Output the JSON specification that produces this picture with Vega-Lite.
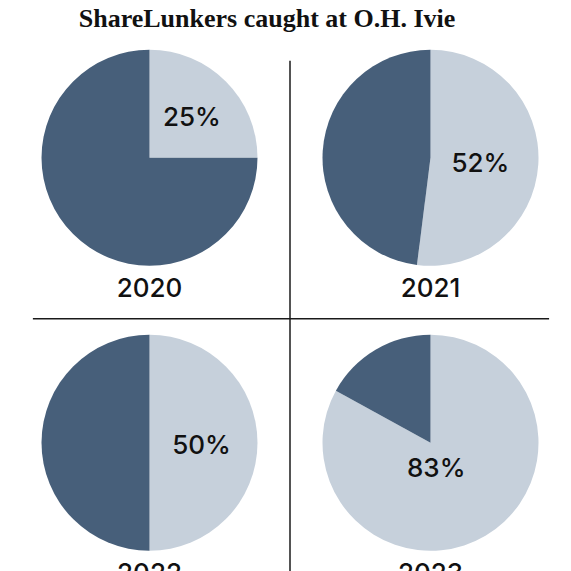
{
  "$schema": "https://vega.github.io/schema/vega-lite/v6.json",
  "width": 562,
  "height": 570,
  "autosize": "none",
  "padding": {"left": 9, "top": 1, "right": 0, "bottom": 0},
  "title": {
    "text": "ShareLunkers caught at O.H. Ivie",
    "font": "Liberation Serif",
    "fontSize": 26,
    "fontWeight": "bold",
    "color": "#111111",
    "anchor": "middle",
    "offset": -31,
    "dx": -23
  },
  "data": {
    "values": [
      {"year": "2020", "col": 0, "row": 0, "part": "At O.H. Ivie", "share": 0.25},
      {"year": "2020", "col": 0, "row": 0, "part": "Elsewhere", "share": 0.75},
      {"year": "2021", "col": 1, "row": 0, "part": "At O.H. Ivie", "share": 0.52},
      {"year": "2021", "col": 1, "row": 0, "part": "Elsewhere", "share": 0.48},
      {"year": "2022", "col": 0, "row": 1, "part": "At O.H. Ivie", "share": 0.50},
      {"year": "2022", "col": 0, "row": 1, "part": "Elsewhere", "share": 0.50},
      {"year": "2023", "col": 1, "row": 1, "part": "At O.H. Ivie", "share": 0.83},
      {"year": "2023", "col": 1, "row": 1, "part": "Elsewhere", "share": 0.17}
    ]
  },
  "encoding": {
    "x": {"field": "col", "type": "quantitative", "scale": {"domain": [-0.5, 1.5], "nice": false, "zero": false}, "axis": null},
    "y": {"field": "row", "type": "quantitative", "scale": {"domain": [-0.55, 1.45], "nice": false, "zero": false, "reverse": true}, "axis": null}
  },
  "layer": [
    {
      "transform": [{"filter": "datum.year === '2020'"}],
      "mark": {"type": "arc", "radius": 108},
      "encoding": {
        "theta": {"field": "share", "type": "quantitative", "stack": true},
        "color": {"field": "part", "type": "nominal", "scale": {"domain": ["At O.H. Ivie", "Elsewhere"], "range": ["#c6d0db", "#475f7a"]}, "legend": null},
        "order": {"field": "part", "type": "ordinal"}
      }
    },
    {
      "transform": [{"filter": "datum.year === '2021'"}],
      "mark": {"type": "arc", "radius": 108},
      "encoding": {
        "theta": {"field": "share", "type": "quantitative", "stack": true},
        "color": {"field": "part", "type": "nominal", "scale": {"domain": ["At O.H. Ivie", "Elsewhere"], "range": ["#c6d0db", "#475f7a"]}, "legend": null},
        "order": {"field": "part", "type": "ordinal"}
      }
    },
    {
      "transform": [{"filter": "datum.year === '2022'"}],
      "mark": {"type": "arc", "radius": 108},
      "encoding": {
        "theta": {"field": "share", "type": "quantitative", "stack": true},
        "color": {"field": "part", "type": "nominal", "scale": {"domain": ["At O.H. Ivie", "Elsewhere"], "range": ["#c6d0db", "#475f7a"]}, "legend": null},
        "order": {"field": "part", "type": "ordinal"}
      }
    },
    {
      "transform": [{"filter": "datum.year === '2023'"}],
      "mark": {"type": "arc", "radius": 108},
      "encoding": {
        "theta": {"field": "share", "type": "quantitative", "stack": true},
        "color": {"field": "part", "type": "nominal", "scale": {"domain": ["At O.H. Ivie", "Elsewhere"], "range": ["#c6d0db", "#475f7a"]}, "legend": null},
        "order": {"field": "part", "type": "ordinal"}
      }
    },
    {
      "transform": [{"filter": "datum.year === '2020' && datum.part === 'At O.H. Ivie'"}],
      "mark": {"type": "text", "font": "Inter", "fontSize": 26, "fontWeight": 500, "color": "#111111", "align": "center", "baseline": "middle", "dy": 3},
      "encoding": {
        "theta": {"field": "share", "type": "quantitative", "stack": true},
        "radius": {"value": 60},
        "text": {"field": "share", "type": "quantitative", "format": ".0%"}
      }
    },
    {
      "transform": [{"filter": "datum.year === '2021' && datum.part === 'At O.H. Ivie'"}],
      "mark": {"type": "text", "font": "Inter", "fontSize": 26, "fontWeight": 500, "color": "#111111", "align": "center", "baseline": "middle", "dy": 3},
      "encoding": {
        "theta": {"field": "share", "type": "quantitative", "stack": true},
        "radius": {"value": 50},
        "text": {"field": "share", "type": "quantitative", "format": ".0%"}
      }
    },
    {
      "transform": [{"filter": "datum.year === '2022' && datum.part === 'At O.H. Ivie'"}],
      "mark": {"type": "text", "font": "Inter", "fontSize": 26, "fontWeight": 500, "color": "#111111", "align": "center", "baseline": "middle", "dy": 3},
      "encoding": {
        "theta": {"field": "share", "type": "quantitative", "stack": true},
        "radius": {"value": 52},
        "text": {"field": "share", "type": "quantitative", "format": ".0%"}
      }
    },
    {
      "transform": [{"filter": "datum.year === '2023' && datum.part === 'At O.H. Ivie'"}],
      "mark": {"type": "text", "font": "Inter", "fontSize": 26, "fontWeight": 500, "color": "#111111", "align": "center", "baseline": "middle", "dx": -8, "dy": 3},
      "encoding": {
        "theta": {"field": "share", "type": "quantitative", "stack": true},
        "radius": {"value": 27},
        "text": {"field": "share", "type": "quantitative", "format": ".0%"}
      }
    },
    {
      "transform": [{"filter": "datum.part === 'At O.H. Ivie'"}],
      "mark": {"type": "text", "font": "Inter", "fontSize": 26, "fontWeight": 500, "color": "#111111", "align": "center", "baseline": "middle", "dy": 131},
      "encoding": {
        "text": {"field": "year", "type": "nominal"}
      }
    },
    {
      "transform": [{"filter": "datum.year === '2020' && datum.part === 'At O.H. Ivie'"}],
      "mark": {"type": "rule", "color": "#1a1a1a", "strokeWidth": 1.5},
      "encoding": {
        "x": {"datum": 0.5, "type": "quantitative"},
        "y": {"datum": -0.34, "type": "quantitative"},
        "y2": {"datum": 1.45}
      }
    },
    {
      "transform": [{"filter": "datum.year === '2020' && datum.part === 'At O.H. Ivie'"}],
      "mark": {"type": "rule", "color": "#1a1a1a", "strokeWidth": 1.5},
      "encoding": {
        "y": {"datum": 0.565, "type": "quantitative"},
        "x": {"datum": -0.415, "type": "quantitative"},
        "x2": {"datum": 1.422}
      }
    }
  ],
  "config": {
    "view": {"stroke": null}
  }
}
